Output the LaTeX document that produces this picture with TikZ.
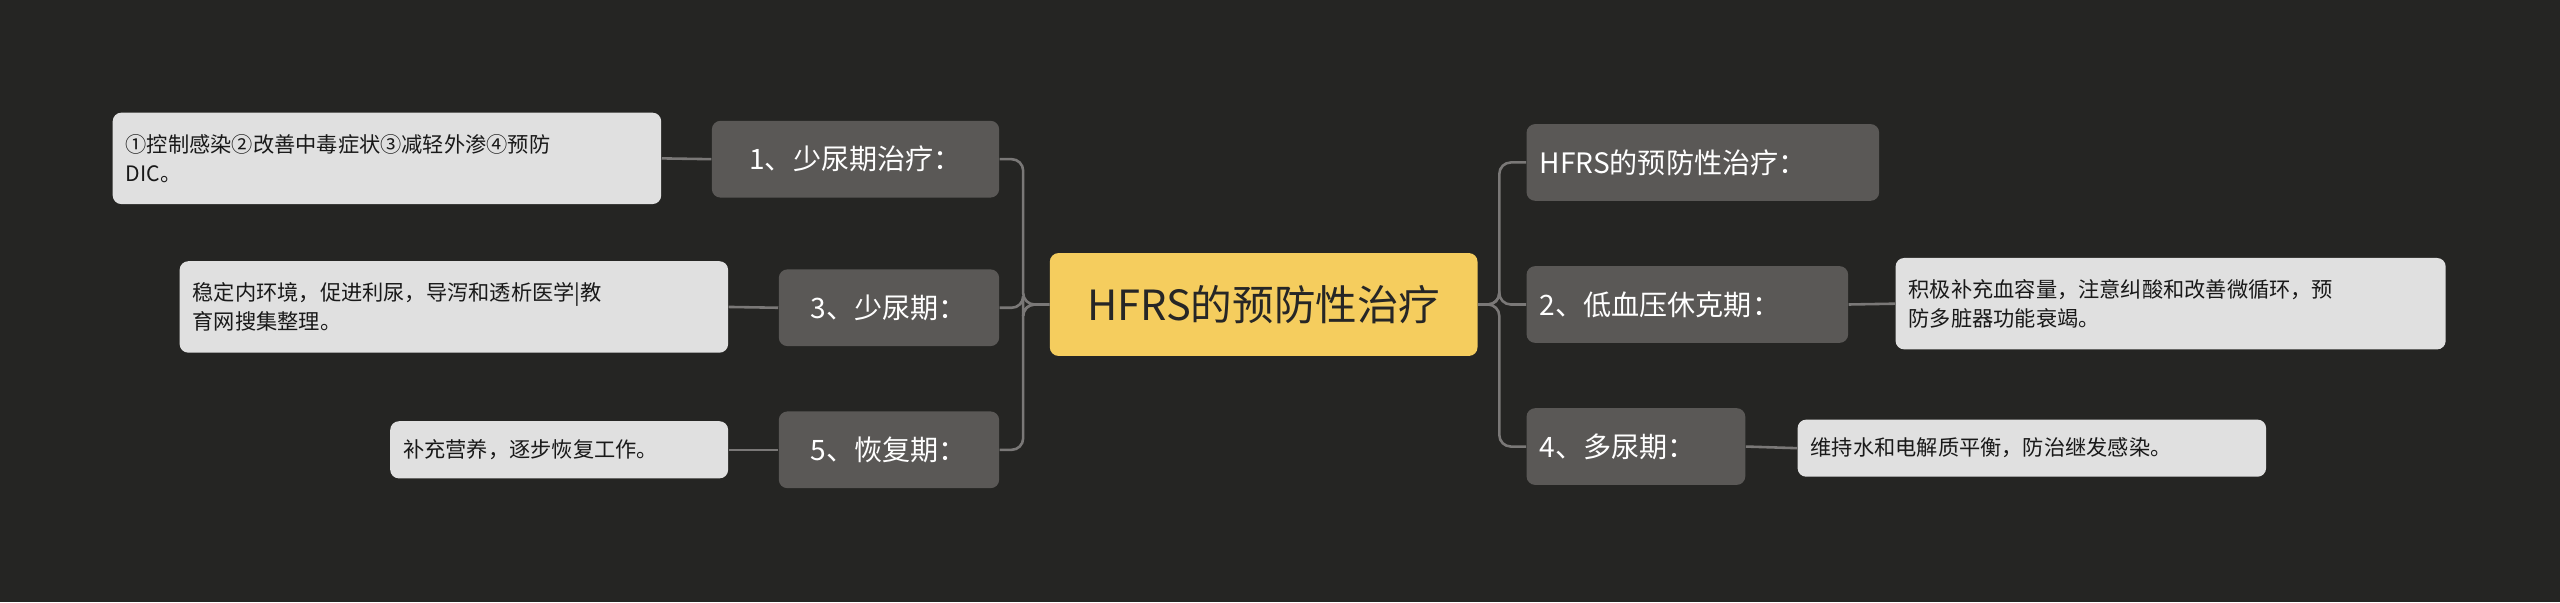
\documentclass[tikz,border=0pt]{standalone}
\usepackage{fontspec}
\setmainfont{Noto Sans CJK SC}
\definecolor{bgc}{HTML}{252523}
\definecolor{rootc}{HTML}{F5CD5E}
\definecolor{midc}{HTML}{5A5856}
\definecolor{leafc}{HTML}{E0E0E0}
\definecolor{linec}{HTML}{7A7877}
\tikzset{
  rootbox/.style={fill=rootc, rounded corners=3pt, text=black!85, font=\fontsize{14.5}{17}\selectfont, inner sep=0pt},
  midbox/.style={fill=midc, rounded corners=3pt, text=white, font=\fontsize{9.8}{12}\selectfont, inner sep=0pt},
  leafbox/.style={fill=leafc, rounded corners=3pt, text=black!90, font=\fontsize{7.4}{10}\selectfont, inner sep=0pt, align=left},
  link/.style={draw=linec, line width=0.9pt, rounded corners=4pt}
}
\begin{document}
\begin{tikzpicture}[x=0.02cm,y=-0.02cm]
\fill[bgc] (0,0) rectangle (1568,369);
\useasboundingbox (0,0) rectangle (1568,369);

% root
\node[rootbox, minimum width=5.24cm, minimum height=1.26cm] (root) at (774,186.5) {HFRS的预防性治疗};

% left branch
\node[midbox, minimum width=3.52cm, minimum height=0.94cm] (s1) at (524,97.5) {1、少尿期治疗：};
\node[midbox, minimum width=2.70cm, minimum height=0.94cm] (s3) at (544.5,188.5) {3、少尿期：};
\node[midbox, minimum width=2.70cm, minimum height=0.94cm] (s5) at (544.5,275.5) {5、恢复期：};

\node[leafbox, minimum width=6.72cm, minimum height=1.12cm, text width=6.4cm] (l1) at (237,97) {①控制感染②改善中毒症状③减轻外渗④预防\\DIC。};
\node[leafbox, minimum width=6.72cm, minimum height=1.12cm, text width=6.4cm] (l3) at (278,188) {稳定内环境，促进利尿，导泻和透析医学|教\\育网搜集整理。};
\node[leafbox, minimum width=4.14cm, minimum height=0.70cm, text width=3.82cm] (l5) at (342.5,275.5) {补充营养，逐步恢复工作。};

% right branch
\node[midbox, minimum width=4.32cm, minimum height=0.94cm, text width=4.0cm, align=left] (r0) at (1043,99.5) {HFRS的预防性治疗：};
\node[midbox, minimum width=3.94cm, minimum height=0.94cm, text width=3.62cm, align=left] (r2) at (1033.5,186.5) {2、低血压休克期：};
\node[midbox, minimum width=2.68cm, minimum height=0.94cm, text width=2.36cm, align=left] (r4) at (1002,273.5) {4、多尿期：};

\node[leafbox, minimum width=6.74cm, minimum height=1.12cm, text width=6.42cm] (l2) at (1329.5,186) {积极补充血容量，注意纠酸和改善微循环，预\\防多脏器功能衰竭。};
\node[leafbox, minimum width=5.74cm, minimum height=0.70cm, text width=5.42cm] (l4) at (1244.5,274.5) {维持水和电解质平衡，防治继发感染。};

% connectors
\foreach \n in {s1,s3,s5} \draw[link] (root.west) -- ++(-16,0) |- (\n.east);
\foreach \n in {r0,r2,r4} \draw[link] (root.east) -- ++(13,0) |- (\n.west);
\draw[link] (s1.west) -- (l1.east);
\draw[link] (s3.west) -- (l3.east);
\draw[link] (s5.west) -- (l5.east);
\draw[link] (r2.east) -- (l2.west);
\draw[link] (r4.east) -- (l4.west);
\end{tikzpicture}
\end{document}
